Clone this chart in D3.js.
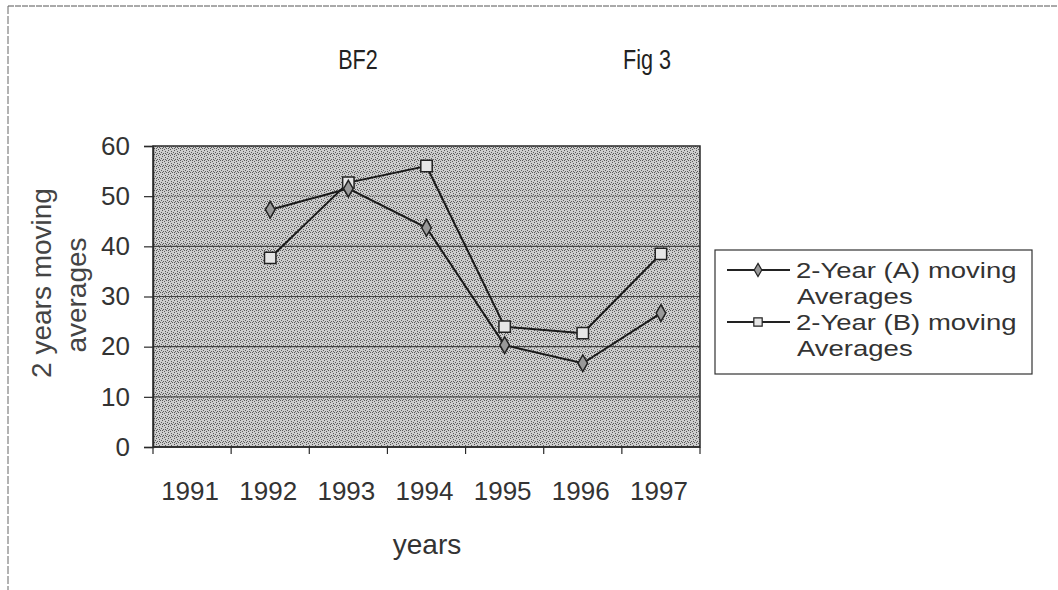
<!DOCTYPE html>
<html>
<head>
<meta charset="utf-8">
<script src="https://cdn.jsdelivr.net/npm/d3@7"></script>
<style>
  html, body { margin: 0; padding: 0; background: #ffffff; }
  svg { display: block; font-family: "Liberation Sans", Arial, sans-serif; }
</style>
</head>
<body>
<svg id="chart" width="1058" height="590"></svg>
<script>
// ---- data ----
const years = ["1991", "1992", "1993", "1994", "1995", "1996", "1997"];
const seriesA = [null, 47.3, 51.5, 43.7, 20.3, 16.7, 26.7];
const seriesB = [null, 37.7, 52.7, 56.0, 24.0, 22.7, 38.5];
const yTicks = [0, 10, 20, 30, 40, 50, 60];
const seriesNames = ["2-Year (A) moving Averages", "2-Year (B) moving Averages"];
const titleLeft = "BF2";
const titleRight = "Fig 3";
const xTitle = "years";
const yTitleLines = ["2 years moving", "averages"];

// ---- layout ----
const svg = d3.select("#chart");
const plot = { left: 153, right: 700, top: 146, bottom: 447 };
const textColor = "#333";

const x = d3.scaleBand().domain(years).range([plot.left, plot.right]).padding(0);
const y = d3.scaleLinear().domain([0, 60]).range([plot.bottom, plot.top]);

// stipple pattern for plot area
const defs = svg.append("defs");
const pat = defs.append("pattern").attr("id", "stip").attr("patternUnits", "userSpaceOnUse")
  .attr("width", 6).attr("height", 6);
pat.append("rect").attr("width", 6).attr("height", 6).attr("fill", "#cdcdcd");
[[0,0],[3,1],[1,3],[4,4],[2,5],[5,2],[0,4],[3,3]].forEach(p => {
  pat.append("rect").attr("x", p[0]).attr("y", p[1]).attr("width", 1).attr("height", 1).attr("fill", "#5a5a5a");
});

// outer frame lines (scanned page border)
svg.append("line").attr("x1", 8).attr("x2", 1058).attr("y1", 6).attr("y2", 6)
  .attr("stroke", "#555").attr("stroke-width", 1).attr("stroke-dasharray", "6,1");
svg.append("line").attr("x1", 8).attr("x2", 8).attr("y1", 6).attr("y2", 590)
  .attr("stroke", "#666").attr("stroke-width", 1).attr("stroke-dasharray", "8,2");

// titles (narrow-looking)
[[titleLeft, 358], [titleRight, 647]].forEach(([t, cx]) => {
  svg.append("text").attr("transform", `translate(${cx},69) scale(0.8,1)`).attr("text-anchor", "middle")
    .attr("font-size", 27).attr("fill", "#222").text(t);
});

// plot background
svg.append("rect").attr("x", plot.left).attr("y", plot.top)
  .attr("width", plot.right - plot.left).attr("height", plot.bottom - plot.top)
  .attr("fill", "url(#stip)");

// gridlines
svg.append("g").selectAll("line").data(yTicks.filter(v => v > 0 && v < 60)).join("line")
  .attr("x1", plot.left).attr("x2", plot.right)
  .attr("y1", d => y(d)).attr("y2", d => y(d))
  .attr("stroke", "#2a2a2a").attr("stroke-width", 1.2)
  .attr("stroke-opacity", d => d === 50 ? 0.2 : 0.8);

// plot border
svg.append("rect").attr("x", plot.left).attr("y", plot.top)
  .attr("width", plot.right - plot.left).attr("height", plot.bottom - plot.top)
  .attr("fill", "none").attr("stroke", "#2a2a2a").attr("stroke-width", 1.5);

// y axis
const yAxis = d3.axisLeft(y).tickValues(yTicks).tickSize(9).tickPadding(14);
const gy = svg.append("g").attr("transform", `translate(${plot.left},0)`).call(yAxis);
gy.select(".domain").attr("stroke", "#2a2a2a").attr("stroke-width", 1.5);
gy.selectAll(".tick line").attr("stroke", "#2a2a2a").attr("stroke-width", 1.2);
gy.selectAll(".tick text").attr("font-size", 26).attr("fill", textColor)
  .style("font-family", "'Liberation Sans', Arial, sans-serif");

// x axis (ticks at category boundaries)
const gx = svg.append("g").attr("transform", `translate(0,${plot.bottom})`);
gx.append("line").attr("x1", plot.left).attr("x2", plot.right).attr("y1", 0).attr("y2", 0)
  .attr("stroke", "#2a2a2a").attr("stroke-width", 1.5);
const boundaries = years.map(d => x(d)).concat([x(years[years.length - 1]) + x.bandwidth()]);
gx.selectAll("line.tk").data(boundaries).join("line").attr("class", "tk")
  .attr("x1", d => d).attr("x2", d => d).attr("y1", 0).attr("y2", 7)
  .attr("stroke", "#2a2a2a").attr("stroke-width", 1.2);
gx.selectAll("text").data(years).join("text")
  .attr("x", d => x(d) + x.bandwidth() / 2 - 2).attr("y", 53)
  .attr("text-anchor", "middle").attr("font-size", 26).attr("fill", textColor)
  .text(d => d);

// axis titles
svg.append("text").attr("x", 427).attr("y", 554).attr("text-anchor", "middle")
  .attr("font-size", 28).attr("fill", textColor).text(xTitle);
svg.append("text").attr("transform", "translate(51,283) rotate(-90)").attr("text-anchor", "middle")
  .attr("font-size", 28).attr("fill", "#444").text(yTitleLines[0]);
svg.append("text").attr("transform", "translate(86,295) rotate(-90)").attr("text-anchor", "middle")
  .attr("font-size", 28).attr("fill", "#444").text(yTitleLines[1]);

// lines
const px = (d, i) => x(years[i]) + x.bandwidth() / 2;
const line = d3.line().defined(d => d !== null).x(px).y(d => y(d));
svg.append("path").datum(seriesB).attr("d", line).attr("fill", "none")
  .attr("stroke", "#1a1a1a").attr("stroke-width", 2);
svg.append("path").datum(seriesA).attr("d", line).attr("fill", "none")
  .attr("stroke", "#1a1a1a").attr("stroke-width", 2);

// markers
const sqSym = d3.symbol().type(d3.symbolSquare).size(130);
const dmSym = d3.symbol().type(d3.symbolDiamond).size(80);
svg.append("g").selectAll("path").data(seriesB.map((v, i) => ({ v, i })).filter(d => d.v !== null)).join("path")
  .attr("d", sqSym).attr("transform", d => `translate(${px(d.v, d.i)},${y(d.v)})`)
  .attr("fill", "#e6e6e6").attr("stroke", "#222").attr("stroke-width", 1.5);
svg.append("g").selectAll("path").data(seriesA.map((v, i) => ({ v, i })).filter(d => d.v !== null)).join("path")
  .attr("d", dmSym).attr("transform", d => `translate(${px(d.v, d.i)},${y(d.v)})`)
  .attr("fill", "#999").attr("stroke", "#222").attr("stroke-width", 1.5);

// legend
const lg = svg.append("g");
lg.append("rect").attr("x", 715).attr("y", 250).attr("width", 317).attr("height", 124)
  .attr("fill", "#fff").attr("stroke", "#333").attr("stroke-width", 1.2);
const legendRows = [
  { name: seriesNames[0], sym: d3.symbol().type(d3.symbolDiamond).size(50), fill: "#999", y: 270 },
  { name: seriesNames[1], sym: d3.symbol().type(d3.symbolSquare).size(70), fill: "#e6e6e6", y: 322 }
];
legendRows.forEach(r => {
  lg.append("line").attr("x1", 727).attr("x2", 790).attr("y1", r.y).attr("y2", r.y)
    .attr("stroke", "#222").attr("stroke-width", 2);
  lg.append("path").attr("d", r.sym).attr("transform", `translate(758,${r.y})`)
    .attr("fill", r.fill).attr("stroke", "#222").attr("stroke-width", 1.2);
  const words = r.name.split(" ");
  lg.append("text").attr("transform", `translate(796,${r.y + 8}) scale(1.25,1)`)
    .attr("font-size", 22).attr("fill", textColor)
    .text(words.slice(0, 3).join(" "));
  lg.append("text").attr("transform", `translate(797,${r.y + 34}) scale(1.25,1)`)
    .attr("font-size", 22).attr("fill", textColor)
    .text(words.slice(3).join(" "));
});
</script>
</body>
</html>
